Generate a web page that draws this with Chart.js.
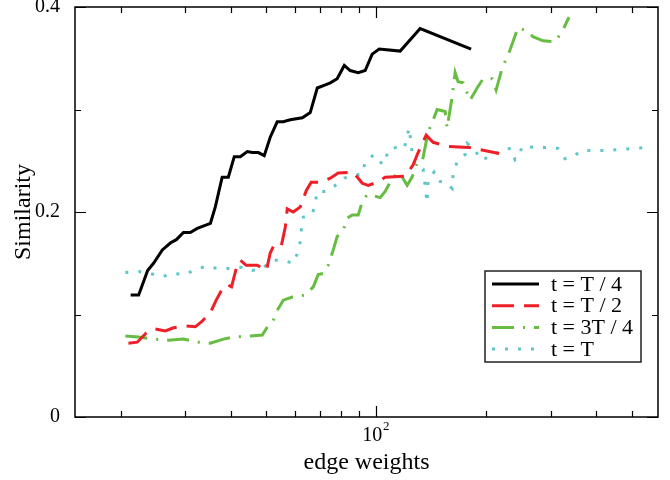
<!DOCTYPE html>
<html>
<head>
<meta charset="utf-8">
<script src="https://cdn.jsdelivr.net/npm/chart.js@4/dist/chart.umd.min.js"></script>
<style>
  body { margin: 0; background: #fff; }
  canvas { display: block; }
</style>
</head>
<body>
<canvas id="sim" width="670" height="480"></canvas>
<script>
// values (edge weight, similarity)
const seriesLabels = ['t = T / 4', 't = T / 2', 't = 3T / 4', 't = T'];

const quarterX = [21.3, 22.4, 23.7, 24.6, 26.0, 27.4, 28.4, 29.7, 31.0, 32.4, 35.2, 36.3, 37.9, 39.4,
  40.9, 42.5, 44.4, 45.8, 47.6, 49.4, 51.3, 53.6, 55.7, 58.2, 62.8, 66.0, 69.0, 72.6, 74.9, 78.2,
  81.8, 84.9, 89.3, 93.3, 97.5, 101.9, 116.3, 131.9, 181.8];
const quarterY = [0.119, 0.119, 0.143, 0.150, 0.163, 0.170, 0.173, 0.180, 0.180, 0.184, 0.189, 0.205,
  0.234, 0.234, 0.254, 0.254, 0.259, 0.258, 0.258, 0.255, 0.273, 0.288, 0.288, 0.290, 0.292, 0.297,
  0.321, 0.324, 0.326, 0.330, 0.343, 0.338, 0.336, 0.338, 0.354, 0.359, 0.357, 0.379, 0.359];

const halfX = [21.0, 22.2, 23.5, 24.7, 26.5, 27.9, 29.9, 32.0, 33.3, 35.2, 36.5, 38.2, 39.2, 40.2,
  41.5, 42.5, 44.1, 47.3, 50.1, 51.3, 52.6, 55.0, 56.4, 57.1, 59.3, 62.0, 64.4, 66.4, 70.7, 74.9,
  78.7, 86.5, 91.6, 95.1, 100.6, 105.8, 120.0, 126.2, 130.2, 137.0, 143.1, 157.3, 179.6, 216.8];
const halfY = [0.072, 0.073, 0.082, 0.086, 0.084, 0.087, 0.089, 0.088, 0.093, 0.102, 0.114, 0.127,
  0.129, 0.127, 0.146, 0.153, 0.148, 0.148, 0.143, 0.160, 0.168, 0.167, 0.185, 0.203, 0.200, 0.205,
  0.221, 0.229, 0.229, 0.233, 0.238, 0.239, 0.228, 0.226, 0.229, 0.234, 0.235, 0.246, 0.258, 0.275,
  0.268, 0.264, 0.263, 0.257];

const threeQuarterX = [20.6, 22.4, 24.4, 27.0, 29.7, 32.4, 35.2, 38.2, 40.7, 45.3, 48.8, 50.4, 52.0,
  53.6, 55.7, 59.0, 64.0, 67.3, 69.4, 71.6, 73.9, 76.3, 78.2, 81.3, 83.3, 86.0, 89.3, 91.6, 94.5,
  98.1, 102.5, 105.8, 109.2, 114.1, 117.8, 121.5, 125.4, 129.4, 133.6, 138.7, 142.2, 146.8, 154.4,
  156.3, 161.3, 164.4, 167.5, 172.9, 180.6, 188.8, 196.1, 207.5, 212.8, 220.9, 232.3, 244.3, 260.2,
  268.5, 286.0, 308.4, 322.3, 336.9];
const threeQuarterY = [0.079, 0.078, 0.076, 0.075, 0.076, 0.073, 0.072, 0.076, 0.078, 0.079, 0.080,
  0.088, 0.092, 0.104, 0.114, 0.117, 0.119, 0.127, 0.139, 0.140, 0.148, 0.163, 0.176, 0.182, 0.194,
  0.197, 0.197, 0.210, 0.217, 0.216, 0.214, 0.220, 0.229, 0.238, 0.234, 0.226, 0.234, 0.248, 0.249,
  0.278, 0.287, 0.300, 0.298, 0.282, 0.312, 0.336, 0.327, 0.326, 0.309, 0.321, 0.330, 0.330, 0.319,
  0.340, 0.358, 0.380, 0.376, 0.371, 0.367, 0.366, 0.376, 0.390];

const fullX = [20.6, 22.4, 24.1, 26.0, 27.9, 30.1, 32.0, 34.3, 36.8, 39.9, 43.0, 45.8, 48.8, 52.0,
  55.4, 59.3, 60.8, 62.0, 62.4, 63.2, 66.9, 68.1, 69.0, 72.6, 78.2, 81.8, 86.5, 91.6, 93.3, 98.7,
  103.8, 106.5, 107.2, 113.4, 119.3, 123.1, 125.4, 127.8, 134.4, 137.8, 138.7, 144.0, 147.7, 154.4,
  161.3, 162.3, 166.4, 175.1, 177.3, 186.4, 192.4, 207.5, 220.9, 233.8, 239.8, 245.9, 250.5, 271.9,
  293.2, 314.3, 328.5, 345.4, 365.4, 396.7, 427.8, 461.2, 500.6, 553.6];
const fullY = [0.141, 0.142, 0.140, 0.137, 0.140, 0.139, 0.144, 0.147, 0.145, 0.145, 0.146, 0.143,
  0.145, 0.153, 0.153, 0.150, 0.159, 0.171, 0.183, 0.195, 0.198, 0.209, 0.220, 0.220, 0.227, 0.233,
  0.236, 0.237, 0.249, 0.256, 0.247, 0.249, 0.260, 0.263, 0.262, 0.282, 0.258, 0.246, 0.242, 0.209,
  0.232, 0.239, 0.230, 0.229, 0.223, 0.237, 0.249, 0.256, 0.267, 0.261, 0.251, 0.254, 0.261, 0.262,
  0.251, 0.254, 0.264, 0.263, 0.263, 0.262, 0.252, 0.254, 0.260, 0.260, 0.260, 0.261, 0.262, 0.263];

const xTickValues = [20, 30, 40, 50, 60, 70, 80, 90, 100, 200, 300, 400, 500];

const serif = 'Liberation Serif, Times New Roman, serif';

function pairs(xs, ys) {
    return xs.map((x, i) => ({ x, y: ys[i] }));
}

const styles = [
    { color: '#000000', dash: [] },
    { color: '#ee1f26', dash: [22, 10] },
    { color: '#67bd42', dash: [22, 9, 2, 9] },
    { color: '#5ec6c6', dash: [3, 10] },
];
const allData = [
    pairs(quarterX, quarterY),
    pairs(halfX, halfY),
    pairs(threeQuarterX, threeQuarterY),
    pairs(fullX, fullY),
];

// frame with inward ticks on all four sides, the 10^2 label, and the boxed legend
const framePlugin = {
    id: 'frame',
    afterDatasetsDraw(chart) {
        const { ctx, chartArea: a, scales: { x, y } } = chart;
        ctx.save();
        ctx.strokeStyle = '#000';
        ctx.lineWidth = 1.2;
        ctx.beginPath();
        x.ticks.forEach(t => {
            const px = Math.round(x.getPixelForValue(t.value)) + 0.5;
            const len = t.major ? 11 : 6;
            ctx.moveTo(px, a.bottom); ctx.lineTo(px, a.bottom - len);
            ctx.moveTo(px, a.top); ctx.lineTo(px, a.top + len);
        });
        y.ticks.forEach(t => {
            const py = Math.round(y.getPixelForValue(t.value)) + 0.5;
            const len = Math.round(t.value * 10) % 2 === 0 ? 11 : 6;
            ctx.moveTo(a.left, py); ctx.lineTo(a.left + len, py);
            ctx.moveTo(a.right, py); ctx.lineTo(a.right - len, py);
        });
        ctx.stroke();
        ctx.lineWidth = 1.5;
        ctx.strokeRect(a.left, a.top, a.right - a.left, a.bottom - a.top);

        // 10^2 with a proper superscript
        const p100 = x.getPixelForValue(100);
        ctx.fillStyle = '#000';
        ctx.textBaseline = 'middle';
        ctx.textAlign = 'center';
        ctx.font = '20px ' + serif;
        ctx.fillText('10', p100 - 4, 436);
        ctx.font = '13px ' + serif;
        ctx.fillText('2', p100 + 10, 427);

        // legend
        const box = { left: 485, top: 271, width: 156, height: 91 };
        ctx.fillStyle = '#fff';
        ctx.fillRect(box.left, box.top, box.width, box.height);
        ctx.strokeStyle = '#222';
        ctx.lineWidth = 1.5;
        ctx.strokeRect(box.left, box.top, box.width, box.height);
        ctx.font = '22px ' + serif;
        ctx.textBaseline = 'middle';
        ctx.textAlign = 'left';
        seriesLabels.forEach((label, i) => {
            const rowY = 284 + i * 21.7;
            ctx.beginPath();
            ctx.strokeStyle = styles[i].color;
            ctx.lineWidth = 3;
            ctx.lineCap = 'butt';
            ctx.setLineDash(styles[i].dash);
            ctx.moveTo(492, rowY);
            ctx.lineTo(539, rowY);
            ctx.stroke();
            ctx.setLineDash([]);
            ctx.fillStyle = '#000';
            ctx.fillText(label, 551, rowY + 1);
        });
        ctx.restore();
    }
};

new Chart(document.getElementById('sim'), {
    type: 'line',
    data: {
        datasets: allData.map((d, i) => ({
            label: seriesLabels[i],
            data: d,
            borderColor: styles[i].color,
            borderWidth: 3,
            borderDash: styles[i].dash,
            borderCapStyle: 'butt',
            borderJoinStyle: 'miter',
            pointRadius: 0,
            tension: 0,
            fill: false,
        }))
    },
    options: {
        responsive: false,
        animation: false,
        layout: { padding: { top: 7, right: 12, left: 0, bottom: 0 } },
        scales: {
            x: {
                type: 'logarithmic',
                min: 15,
                max: 590,
                grid: { display: false },
                border: { display: false },
                afterBuildTicks(scale) {
                    scale.ticks = xTickValues.map(v => ({ value: v, major: v === 100 }));
                },
                afterFit(scale) {
                    scale.height = 63;
                    scale.paddingLeft = 0;
                    scale.paddingRight = 0;
                },
                ticks: {
                    autoSkip: false,
                    maxRotation: 0,
                    padding: 8,
                    color: '#000',
                    font: { family: serif, size: 20 },
                    callback: () => ''
                },
                title: {
                    display: true,
                    text: 'edge weights',
                    color: '#000',
                    padding: 3,
                    font: { family: serif, size: 24 }
                }
            },
            y: {
                min: 0,
                max: 0.4,
                grid: { display: false },
                border: { display: false },
                afterFit(scale) {
                    scale.width = 75;
                    scale.paddingTop = 0;
                    scale.paddingBottom = 0;
                },
                ticks: {
                    stepSize: 0.1,
                    padding: 7,
                    color: '#000',
                    font: { family: serif, size: 20 },
                    callback: v => {
                        const k = Math.round(v * 10);
                        if (k % 2 !== 0) return '';
                        return k === 0 ? '0' : String(k / 10);
                    }
                },
                title: {
                    display: true,
                    text: 'Similarity',
                    color: '#000',
                    padding: 9,
                    font: { family: serif, size: 24 }
                }
            }
        },
        plugins: {
            legend: { display: false },
            tooltip: { enabled: false }
        }
    },
    plugins: [framePlugin]
});
</script>
</body>
</html>
